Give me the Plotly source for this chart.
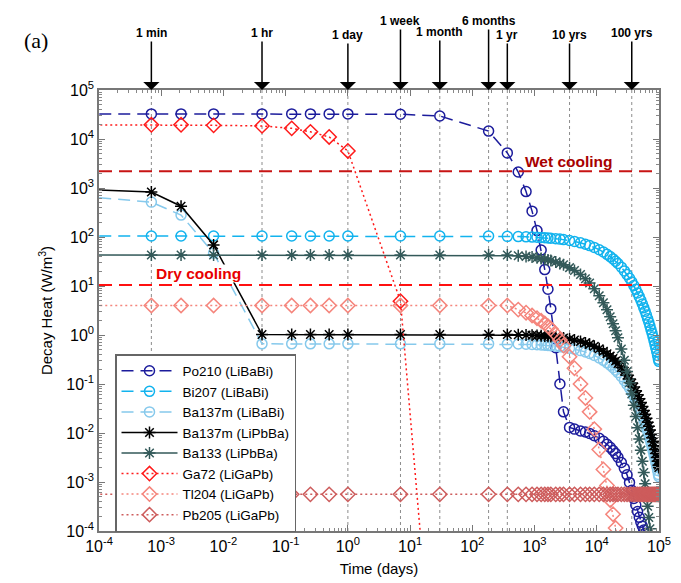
import math
import plotly.graph_objects as go

# ---------------- data ----------------
# time points (days): early part (markers every event) and long-term tail
T_EARLY = [5e-5, 6.944e-4, 2.083e-3, 6.944e-3, 0.04167, 0.125, 0.25, 0.5, 1.0, 7.0, 30.0, 182.5, 365.0]
T_TAIL = [547, 730, 912, 1095, 1277, 1460, 1642, 1825, 2190, 2555, 2920,
          3650, 4380, 5475, 6570, 7665, 9125, 10950, 12775, 14600, 16425, 18250, 20075, 21900,
          24820, 27740, 30660, 33580, 36500, 39420, 42340, 45260, 48180, 51100, 54020, 56940,
          59860, 62780, 65700, 68620, 71540, 74460, 77380, 80300, 83220, 86140, 89060, 91980,
          94900, 97820, 99500]

PO210_EARLY = [3.25e4, 3.25e4, 3.25e4, 3.25e4, 3.25e4, 3.25e4, 3.25e4, 3.25e4, 3.25e4, 3.2e4, 2.95e4, 1.45e4, 5.2e3]
PO210_TAIL = [2120, 845, 337, 135, 54, 21.6, 8.6, 3.45, 0.55, 0.10, 0.027,
              0.013, 0.012, 0.011, 0.0105, 0.0098, 0.0088, 0.0078, 0.0068, 0.0059, 0.0051, 0.0044, 0.0038, 0.0032,
              0.0025, 0.0019, 0.0014, 0.00098, 0.00068, 0.00046, 0.00034, 0.00025, 0.00019, 0.00015, 0.000125, 0.000105,
              0.00009]

BI207_EARLY = [105, 105, 105, 105, 105, 105, 105, 105, 105, 105, 105, 105, 103]
BI207_TAIL = [101.9, 100.8, 99.7, 98.6, 97.6, 96.5, 95.5, 94.5, 92.5, 90.5, 88.6,
              84.8, 81.2, 76.1, 71.3, 66.8, 61.3, 55.0, 49.4, 44.3, 39.8, 35.7, 32.0, 28.8,
              24.2, 20.3, 17.1, 14.4, 12.1, 10.2, 8.56, 7.21, 6.06, 5.10, 4.29, 3.61, 3.04, 2.55,
              2.15, 1.81, 1.52, 1.28, 1.08, 0.905, 0.762, 0.641, 0.539, 0.454, 0.382, 0.321, 0.29]

BA137M_BI_EARLY = [680, 515, 280, 47, 0.66, 0.66, 0.66, 0.66, 0.66, 0.66, 0.66, 0.66, 0.655]
BA137M_BI_TAIL = [0.655, 0.648, 0.640, 0.633, 0.626, 0.619, 0.612, 0.605, 0.591, 0.578, 0.564,
                  0.539, 0.515, 0.480, 0.449, 0.419, 0.382, 0.341, 0.304, 0.270, 0.241, 0.215, 0.192, 0.171,
                  0.142, 0.118, 0.0982, 0.0819, 0.0683, 0.0566, 0.0471, 0.0392, 0.0326, 0.0272, 0.0226,
                  0.0188, 0.0156, 0.0130, 0.0108, 0.00897, 0.00748, 0.00623, 0.00518, 0.00431, 0.00359,
                  0.00298, 0.00248, 0.00207, 0.00172, 0.00143, 0.00129]

BA137M_PB_EARLY = [940, 830, 425, 69, 1.02, 1.02, 1.02, 1.02, 1.02, 1.02, 1.02, 1.02, 1.02]
BA137M_PB_TAIL = [1.008, 0.997, 0.985, 0.974, 0.963, 0.952, 0.941, 0.930, 0.909, 0.889, 0.868,
                  0.829, 0.792, 0.739, 0.690, 0.644, 0.587, 0.524, 0.467, 0.416, 0.371, 0.331, 0.295, 0.263,
                  0.218, 0.182, 0.151, 0.126, 0.105, 0.0871, 0.0725, 0.0603, 0.0502, 0.0418, 0.0347,
                  0.0289, 0.0240, 0.0200, 0.0166, 0.0138, 0.0115, 0.00958, 0.00797, 0.00663, 0.00552,
                  0.00459, 0.00382, 0.00318, 0.00264, 0.00220, 0.00198]

BA133_EARLY = [43, 43, 43, 43, 43, 43, 43, 43, 43, 43, 43, 43, 43]
BA133_TAIL = [41.6, 40.2, 38.9, 37.6, 36.4, 35.2, 34.1, 33.0, 30.9, 28.9, 27.1,
              23.7, 20.8, 17.1, 14.0, 11.5, 8.81, 6.34, 4.56, 3.28, 2.36, 1.69, 1.22, 0.877,
              0.517, 0.305, 0.180, 0.106, 0.0625, 0.0369, 0.0218, 0.0128, 0.00758, 0.00447,
              0.00264, 0.00156, 9.18e-4, 5.41e-4, 3.19e-4, 1.88e-4, 1.11e-4, 6.55e-5, 3.87e-5]

GA72_EARLY = [1.95e4, 1.95e4, 1.95e4, 1.9e4, 1.85e4, 1.65e4, 1.4e4, 1.1e4, 5.7e3, 4.9, 2e-9]
GA72_TAIL = []

TL204_EARLY = [4.0, 4.0, 4.0, 4.0, 4.0, 4.0, 4.0, 4.0, 4.0, 4.0, 4.0, 4.0, 4.0]
TL204_TAIL = [3.3, 2.85, 2.5, 2.2, 1.95, 1.72, 1.52, 1.34, 1.03, 0.79, 0.61,
              0.36, 0.21, 0.10, 0.052, 0.027, 0.012, 4.6e-3, 1.8e-3, 8.5e-4, 4.3e-4, 2.2e-4, 1.15e-4, 6e-5]

PB205_EARLY = [5.6e-4, 5.6e-4, 5.6e-4, 5.6e-4, 5.6e-4, 5.6e-4, 5.6e-4, 5.6e-4, 5.6e-4, 5.6e-4, 5.6e-4, 5.6e-4, 5.6e-4]
PB205_TAIL = [5.6e-4, 5.6e-4, 5.6e-4, 5.6e-4, 5.6e-4, 5.6e-4, 5.6e-4, 5.6e-4, 5.6e-4, 5.6e-4, 5.6e-4,
              5.6e-4, 5.6e-4, 5.6e-4, 5.6e-4, 5.6e-4, 5.6e-4, 5.6e-4, 5.6e-4, 5.6e-4, 5.6e-4, 5.6e-4, 5.6e-4, 5.6e-4,
              5.6e-4, 5.6e-4, 5.6e-4, 5.6e-4, 5.6e-4, 5.6e-4, 5.6e-4, 5.6e-4, 5.6e-4, 5.6e-4, 5.6e-4, 5.6e-4,
              5.6e-4, 5.6e-4, 5.6e-4, 5.6e-4, 5.6e-4, 5.6e-4, 5.6e-4, 5.6e-4, 5.6e-4, 5.6e-4, 5.6e-4, 5.6e-4,
              5.6e-4, 5.6e-4, 5.6e-4]

SERIES_NAMES = ["Po210 (LiBaBi)", "Bi207 (LiBaBi)", "Ba137m (LiBaBi)", "Ba137m (LiPbBa)",
                "Ba133 (LiPbBa)", "Ga72 (LiGaPb)", "Tl204 (LiGaPb)", "Pb205 (LiGaPb)"]

# cooling limits (W/m^3)
WET_COOLING = 2200
DRY_COOLING = 10.5

# event markers along the time axis
EVENT_TIMES = [1 / 1440, 1 / 24, 1, 7, 30, 182.5, 365, 3650, 36500]
EVENT_LABELS = ["1 min", "1 hr", "1 day", "1 week", "1 month", "6 months", "1 yr", "10 yrs", "100 yrs"]

X_TICK_VALS = [1e-4, 1e-3, 1e-2, 1e-1, 1e0, 1e1, 1e2, 1e3, 1e4, 1e5]
X_TICK_TEXT = ["10<sup>-4</sup>", "10<sup>-3</sup>", "10<sup>-2</sup>", "10<sup>-1</sup>", "10<sup>0</sup>",
               "10<sup>1</sup>", "10<sup>2</sup>", "10<sup>3</sup>", "10<sup>4</sup>", "10<sup>5</sup>"]
Y_TICK_VALS = X_TICK_VALS
Y_TICK_TEXT = X_TICK_TEXT

# ---------------- styling ----------------
FONT = "Liberation Sans"
DASH = "12px,7px"
DOT = "2px,3px"
STYLES = [
    dict(color="#1c1c9c", dash=DASH, symbol="circle-open", size=10),
    dict(color="#12b3ee", dash=DASH, symbol="circle-open", size=10),
    dict(color="#86c9ec", dash=DASH, symbol="circle-open", size=10),
    dict(color="#000000", dash="solid", symbol="asterisk-open", size=10),
    dict(color="#335959", dash="solid", symbol="asterisk-open", size=10),
    dict(color="#ff1a1a", dash=DOT, symbol="diamond-open", size=11),
    dict(color="#f5857c", dash=DOT, symbol="diamond-open", size=11),
    dict(color="#cd5c5c", dash=DOT, symbol="diamond-open", size=11),
]

fig = go.Figure()

# vertical event lines
for t in EVENT_TIMES:
    fig.add_trace(go.Scatter(x=[t, t], y=[1e-4, 1e5], mode="lines",
                             line=dict(color="#8c8c8c", width=1, dash="3px,3px"),
                             showlegend=False, hoverinfo="skip"))

series = [
    (PO210_EARLY, PO210_TAIL), (BI207_EARLY, BI207_TAIL), (BA137M_BI_EARLY, BA137M_BI_TAIL),
    (BA137M_PB_EARLY, BA137M_PB_TAIL), (BA133_EARLY, BA133_TAIL), (GA72_EARLY, GA72_TAIL),
    (TL204_EARLY, TL204_TAIL), (PB205_EARLY, PB205_TAIL),
]
for name, (early, tail), st in zip(SERIES_NAMES, series, STYLES):
    xs = T_EARLY[:len(early)] + T_TAIL[:len(tail)]
    ys = early + tail
    fig.add_trace(go.Scatter(
        x=xs, y=ys, mode="lines+markers", name=name,
        line=dict(color=st["color"], width=1.5, dash=st["dash"]),
        marker=dict(symbol=st["symbol"], size=st["size"], color=st["color"],
                    line=dict(width=1.5, color=st["color"])),
    ))

# cooling limit lines
fig.add_trace(go.Scatter(x=[1e-4, 1e5], y=[WET_COOLING, WET_COOLING], mode="lines",
                         line=dict(color="#c81414", width=2, dash="13px,7px"),
                         showlegend=False, hoverinfo="skip"))
fig.add_trace(go.Scatter(x=[1e-4, 1e5], y=[DRY_COOLING, DRY_COOLING], mode="lines",
                         line=dict(color="#ff1010", width=2, dash="13px,7px"),
                         showlegend=False, hoverinfo="skip"))

annotations = []
# arrows with labels above the plot
LABEL_OFFSETS = [-57, -57, -55, -69, -58, -69, -55, -55, -57]
for t, lab, off in zip(EVENT_TIMES, EVENT_LABELS, LABEL_OFFSETS):
    annotations.append(dict(
        x=math.log10(t), y=1, xref="x", yref="paper", text="<b>" + lab + "</b>",
        showarrow=True, arrowhead=1, arrowsize=1.8, arrowwidth=1.5, arrowcolor="black",
        ax=0, ay=off, standoff=0, font=dict(family=FONT, size=12, color="black")))

annotations.append(dict(x=3.56, y=3.55, xref="x", yref="y", text="<b>Wet cooling</b>",
                        showarrow=False, font=dict(family=FONT, size=15.5, color="#a80000")))
annotations.append(dict(x=-2.4, y=1.265, xref="x", yref="y", text="<b>Dry cooling</b>",
                        showarrow=False, bgcolor="white", borderpad=0,
                        font=dict(family=FONT, size=15.5, color="#e80000")))
annotations.append(dict(x=(28 - 91) / 560, y=(523 - 32) / 441, xref="paper", yref="paper",
                        xanchor="center", yanchor="middle", text="(a)", showarrow=False,
                        font=dict(family="Liberation Serif", size=22, color="black")))

axis_common = dict(
    type="log", range=[-4, 5], tickmode="array", showgrid=False, zeroline=False,
    ticks="inside", ticklen=6, tickwidth=1, tickcolor="#777777",
    showline=True, linecolor="#777777", linewidth=1.5, mirror="ticks",
    minor=dict(ticks="inside", ticklen=3, tickcolor="#888888", dtick="D1", showgrid=False),
    tickfont=dict(family=FONT, size=16, color="black"),
)

fig.update_layout(
    width=681, height=583,
    margin=dict(l=91, r=30, t=82, b=60),
    paper_bgcolor="white", plot_bgcolor="white",
    font=dict(family=FONT, color="black"),
    xaxis=dict(axis_common, tickvals=X_TICK_VALS, ticktext=X_TICK_TEXT,
               title=dict(text="Time (days)", font=dict(family=FONT, size=15), standoff=10)),
    yaxis=dict(axis_common, tickvals=Y_TICK_VALS, ticktext=Y_TICK_TEXT,
               title=dict(text="Decay Heat (W/m<sup>3</sup>)", font=dict(family=FONT, size=15), standoff=10)),
    legend=dict(x=(107 - 91) / 560, y=(523 - 346) / 441, xanchor="left", yanchor="top",
                bgcolor="white", bordercolor="#666666", borderwidth=1.5,
                font=dict(family=FONT, size=13.5, color="black"), itemwidth=56,
                tracegroupgap=0),
    annotations=annotations,
    showlegend=True,
)

fig.write_html("out.html")
